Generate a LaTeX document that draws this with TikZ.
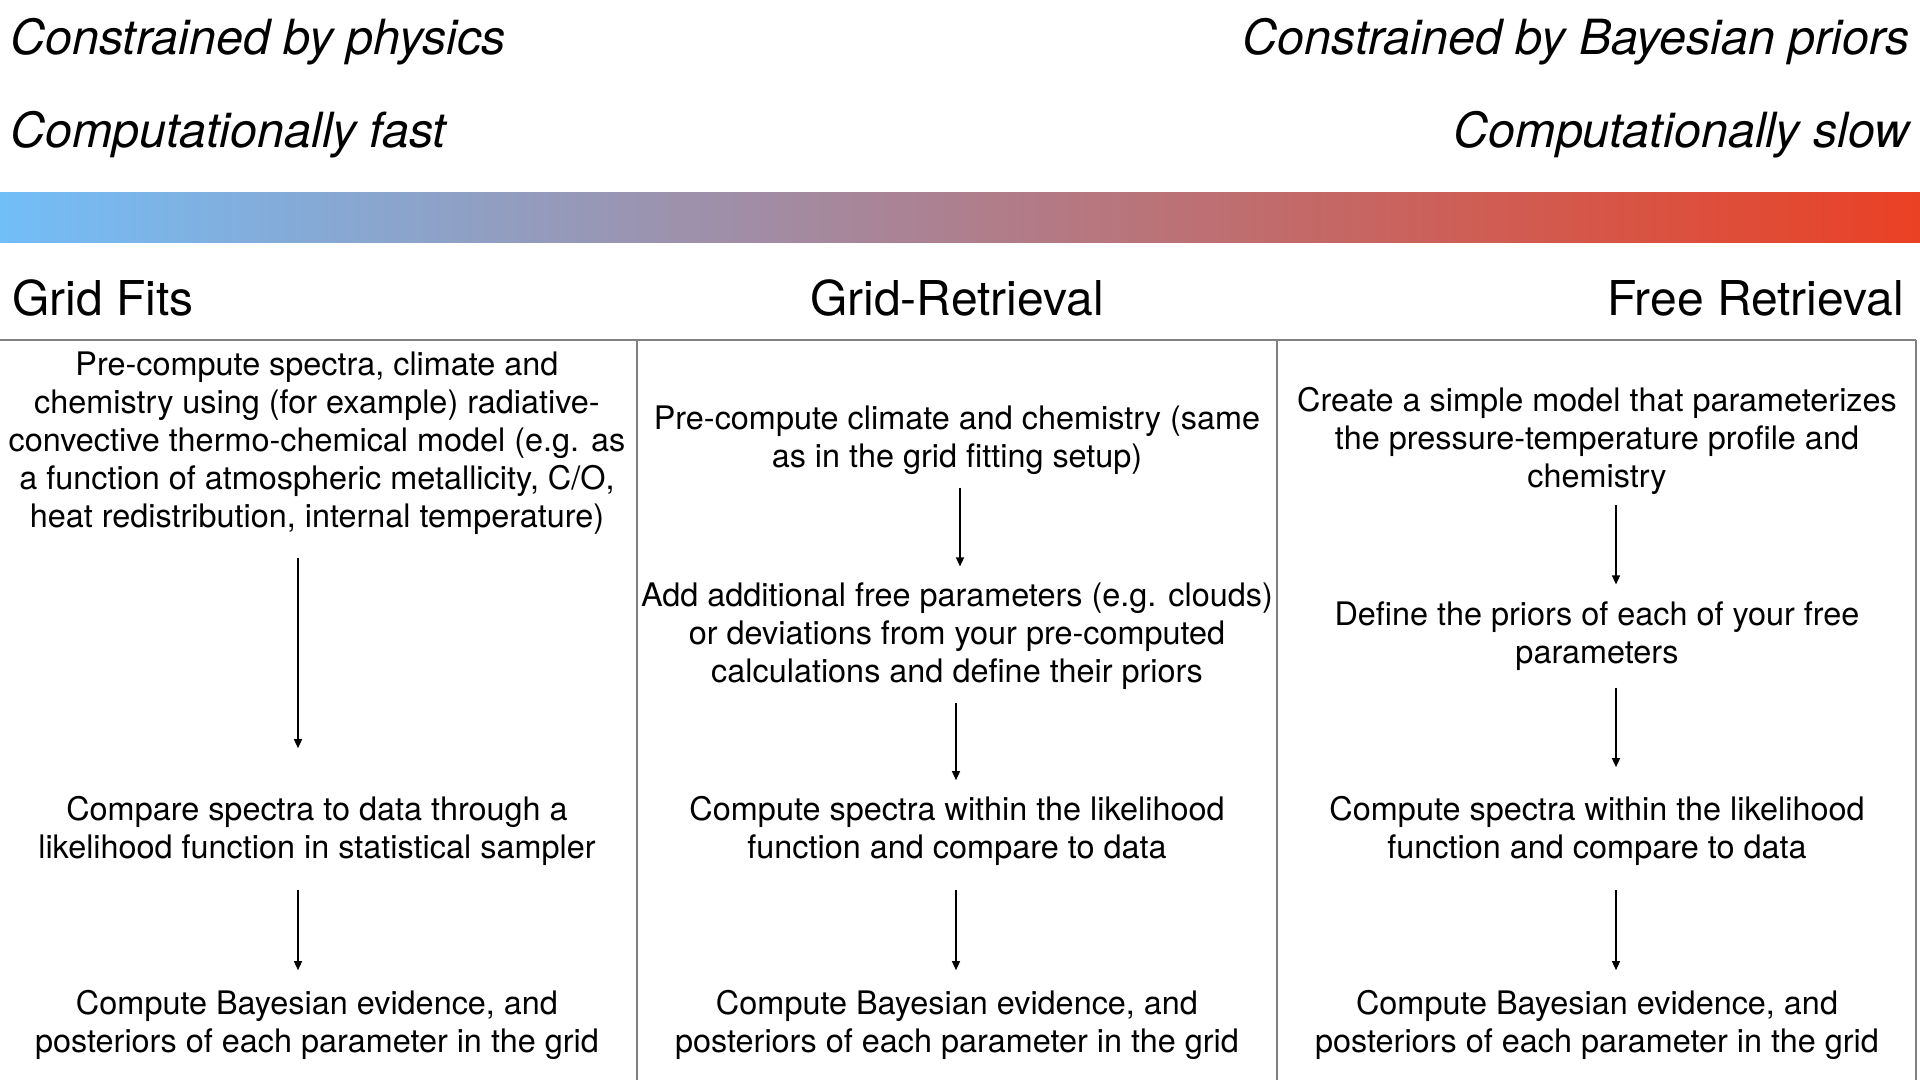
\documentclass[tikz,border=0pt]{standalone}
\usepackage{fontspec}
\setmainfont{TeX Gyre Heros}
\usetikzlibrary{arrows.meta,positioning}

\definecolor{coolend}{RGB}{114,190,248}
\definecolor{midend}{RGB}{154,126,146}
\definecolor{hotend}{RGB}{234,65,36}
\definecolor{rulegray}{RGB}{128,128,128}

\tikzset{
    headtxt/.style={inner sep=0pt, font=\fontsize{48}{56}\selectfont},
    slanttxt/.style={inner sep=0pt, font=\fontsize{48.5}{56}\selectfont\itshape},
    steptxt/.style={inner sep=0pt, align=center, font=\fontsize{32.4}{38}\selectfont},
    flow/.style={-{Triangle[length=9pt,width=8pt]}, line width=1.4pt},
    rule/.style={rulegray, line width=1.5pt}
}

\begin{document}
\begin{tikzpicture}[x=1pt,y=-1pt]
    \pgfmathsetmacro{\colA}{317}
    \pgfmathsetmacro{\colB}{957}
    \pgfmathsetmacro{\colC}{1597}

    \useasboundingbox (0,0) rectangle (1920,1080);

    % top labels
    \node[slanttxt, anchor=base west] (physics) at (10,54) {Constrained by physics};
    \node[slanttxt, anchor=base west] (fast) at (10,147) {Computationally fast};
    \node[slanttxt, anchor=base east] (priors) at (1910,54) {Constrained by Bayesian priors};
    \node[slanttxt, anchor=base east] (slow) at (1910,147) {Computationally slow};

    \shade[left color=coolend, middle color=midend, right color=hotend] (0,192) rectangle (1920,242);

    \node[headtxt, anchor=base west] (fits) at (12,315) {Grid Fits};
    \node[headtxt, anchor=base] (gridret) at (\colB,315) {Grid-Retrieval};
    \node[headtxt, anchor=base east] (freeret) at (1904,315) {Free Retrieval};

    % table rules
    \draw[rule] (0,340) -- (1916,340);
    \draw[rule] (637,340) -- (637,1080);
    \draw[rule] (1277,340) -- (1277,1080);
    \draw[rule] (1916,340) -- (1916,1080);

    % grid fits
    \node[steptxt] (fitA) at (\colA,443) {Pre-compute spectra, climate and\\chemistry using (for example) radiative-\\convective thermo-chemical model (e.g. as\\a function of atmospheric metallicity, C/O,\\heat redistribution, internal temperature)};
    \node[steptxt] (fitB) at (\colA,831) {Compare spectra to data through a\\likelihood function in statistical sampler};
    \node[steptxt] (fitC) at (\colA,1025) {Compute Bayesian evidence, and\\posteriors of each parameter in the grid};

    % grid retrieval
    \node[steptxt] (gridA) at (\colB,440) {Pre-compute climate and chemistry (same\\as in the grid fitting setup)};
    \node[steptxt] (gridB) at (\colB,636) {Add additional free parameters (e.g. clouds)\\or deviations from your pre-computed\\calculations and define their priors};
    \node[steptxt] (gridC) at (\colB,831) {Compute spectra within the likelihood\\function and compare to data};
    \node[steptxt] (gridD) at (\colB,1025) {Compute Bayesian evidence, and\\posteriors of each parameter in the grid};

    % free retrieval
    \node[steptxt] (freeA) at (\colC,441) {Create a simple model that parameterizes\\the pressure-temperature profile and\\chemistry};
    \node[steptxt] (freeB) at (\colC,636) {Define the priors of each of your free\\parameters};
    \node[steptxt] (freeC) at (\colC,831) {Compute spectra within the likelihood\\function and compare to data};
    \node[steptxt] (freeD) at (\colC,1025) {Compute Bayesian evidence, and\\posteriors of each parameter in the grid};

    \coordinate (fitX) at (298,0);
    \coordinate (gridX) at (960,0);
    \coordinate (gridY) at (956,0);
    \coordinate (freeX) at (1616,0);

    \draw[flow, shorten <=23pt, shorten >=48pt] (fitA.south -| fitX) -- (fitB.north -| fitX);
    \draw[flow, shorten <=24pt, shorten >=20pt] (fitB.south -| fitX) -- (fitC.north -| fitX);

    \draw[flow, shorten <=13pt, shorten >=16pt] (gridA.south -| gridX) -- (gridB.north -| gridX);
    \draw[flow, shorten <=13pt, shorten >=16pt] (gridB.south -| gridY) -- (gridC.north -| gridY);
    \draw[flow, shorten <=24pt, shorten >=20pt] (gridC.south -| gridY) -- (gridD.north -| gridY);

    \draw[flow, shorten <=10pt, shorten >=17pt] (freeA.south -| freeX) -- (freeB.north -| freeX);
    \draw[flow, shorten <=17pt, shorten >=29pt] (freeB.south -| freeX) -- (freeC.north -| freeX);
    \draw[flow, shorten <=24pt, shorten >=20pt] (freeC.south -| freeX) -- (freeD.north -| freeX);
\end{tikzpicture}
\end{document}
